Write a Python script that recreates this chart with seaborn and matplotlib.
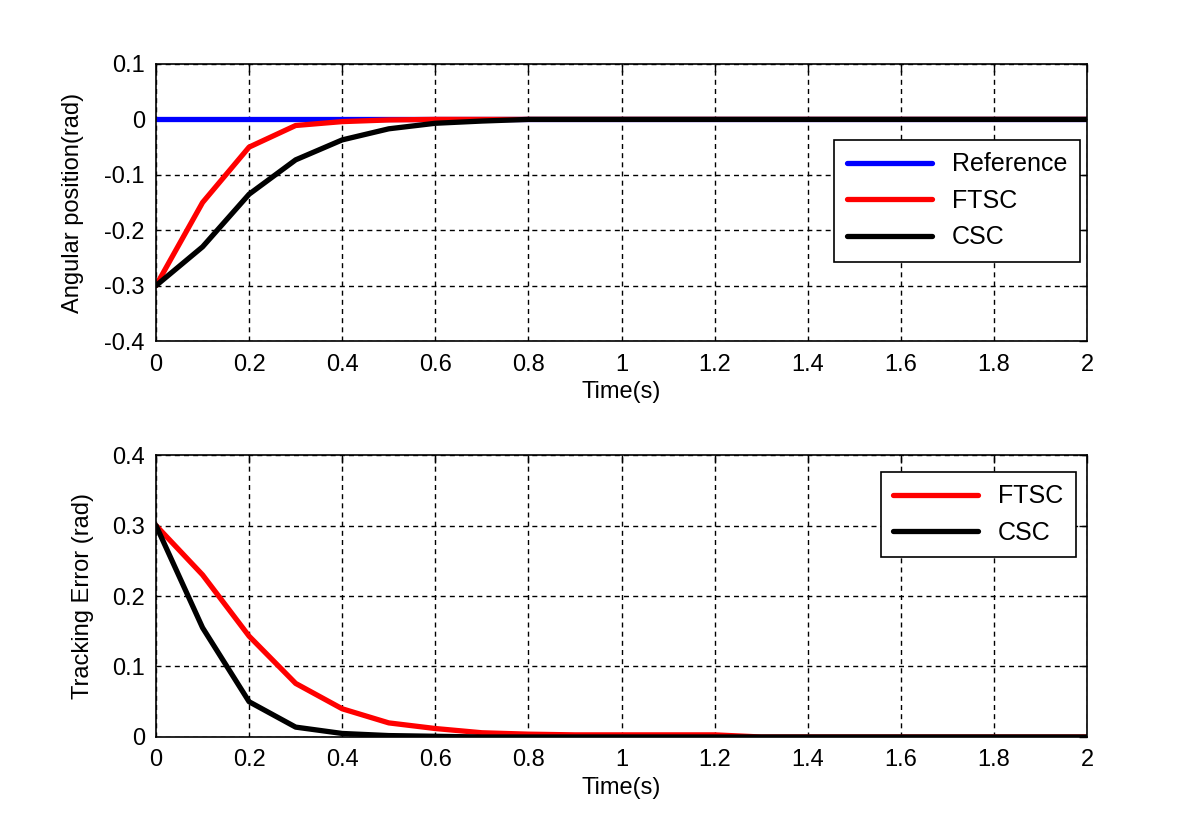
import numpy as np
import pandas as pd
import matplotlib
matplotlib.use('Agg')
import matplotlib.pyplot as plt
import seaborn as sns

# time samples (s)
time = [0.0, 0.1, 0.2, 0.3, 0.4, 0.5, 0.6, 0.7, 0.8, 0.9, 1.0,
        1.1, 1.2, 1.3, 1.4, 1.5, 1.6, 1.7, 1.8, 1.9, 2.0]

# angular position (rad)
reference = [0.0] * 21
ftsc_pos = [-0.3, -0.15, -0.05, -0.011, -0.004, -0.001, 0.0, 0.0, 0.0, 0.0, 0.0,
            0.0, 0.0, 0.0, 0.0, 0.0, 0.0, 0.0, 0.0, 0.0, 0.0]
csc_pos = [-0.3, -0.23, -0.135, -0.073, -0.037, -0.017, -0.007, -0.003, 0.0, 0.0, 0.0,
           0.0, 0.0, 0.0, 0.0, 0.0, 0.0, 0.0, 0.0, 0.0, 0.0]

# tracking error (rad)
ftsc_err = [0.3, 0.23, 0.143, 0.076, 0.040, 0.020, 0.012, 0.006, 0.004, 0.003, 0.003,
            0.003, 0.003, 0.0, 0.0, 0.0, 0.0, 0.0, 0.0, 0.0, 0.0]
csc_err = [0.3, 0.155, 0.05, 0.014, 0.005, 0.002, 0.001, 0.0, 0.0, 0.0, 0.0,
           0.0, 0.0, 0.0, 0.0, 0.0, 0.0, 0.0, 0.0, 0.0, 0.0]

sns.set_style('white')
plt.rcParams['font.family'] = ['Liberation Sans', 'DejaVu Sans']
plt.rcParams['axes.unicode_minus'] = False
plt.rcParams['font.size'] = 17
plt.rcParams['text.color'] = 'black'
plt.rcParams['axes.labelcolor'] = 'black'

pos_df = pd.DataFrame({'t': time * 3,
                       'val': reference + ftsc_pos + csc_pos,
                       'series': ['Reference'] * 21 + ['FTSC'] * 21 + ['CSC'] * 21})
err_df = pd.DataFrame({'t': time * 2,
                       'val': ftsc_err + csc_err,
                       'series': ['FTSC'] * 21 + ['CSC'] * 21})

colors = {'Reference': '#0000ff', 'FTSC': '#ff0000', 'CSC': '#000000'}

fig = plt.figure(figsize=(12.01, 8.32), dpi=100)
ax1 = fig.add_axes([0.1299, 0.5901, 0.7752, 0.3330])
ax2 = fig.add_axes([0.1299, 0.1142, 0.7752, 0.3389])

sns.lineplot(data=pos_df, x='t', y='val', hue='series', palette=colors,
             linewidth=3.8, ax=ax1)
sns.lineplot(data=err_df, x='t', y='val', hue='series', palette=colors,
             linewidth=3.8, ax=ax2)

ax1.set_ylim(-0.4, 0.1)
ax1.set_yticks(np.arange(-0.4, 0.11, 0.1))
ax1.set_yticklabels(['-0.4', '-0.3', '-0.2', '-0.1', '0', '0.1'])
ax1.set_ylabel('Angular position(rad)', labelpad=15)

ax2.set_ylim(0, 0.4)
ax2.set_yticks([0, 0.1, 0.2, 0.3, 0.4])
ax2.set_yticklabels(['0', '0.1', '0.2', '0.3', '0.4'])
ax2.set_ylabel('Tracking Error (rad)', labelpad=13)

xt = np.arange(0, 2.01, 0.2)
xl = ['0', '0.2', '0.4', '0.6', '0.8', '1', '1.2', '1.4', '1.6', '1.8', '2']
for ax in (ax1, ax2):
    ax.set_xlim(0, 2)
    ax.set_xticks(xt)
    ax.set_xticklabels(xl)
    ax.set_xlabel('Time(s)', labelpad=4)
    ax.grid(True, color='black', linestyle=(0, (3.6, 3)), linewidth=1.0)
    ax.tick_params(direction='in', length=6, width=1, top=True, right=True,
                   labelsize=17, colors='black')
    ax.tick_params(axis='x', pad=9)
    ax.tick_params(axis='y', pad=8)
    for sp in ax.spines.values():
        sp.set_color('black')
        sp.set_linewidth(1.2)

leg1 = ax1.legend(loc='upper right', bbox_to_anchor=(0.992, 0.726), title=None,
                  frameon=True, fancybox=False, edgecolor='black', framealpha=1,
                  handlelength=3.4, fontsize=18, borderpad=0.5, labelspacing=0.5,
                  borderaxespad=0)
leg1.get_frame().set_linewidth(1.2)
leg2 = ax2.legend(loc='upper right', bbox_to_anchor=(0.988, 0.94), title=None,
                  frameon=True, fancybox=False, edgecolor='black', framealpha=1,
                  handlelength=3.4, fontsize=18, borderpad=0.5, labelspacing=0.5,
                  borderaxespad=0)
leg2.get_frame().set_linewidth(1.2)

fig.savefig('out.png', dpi=100)
